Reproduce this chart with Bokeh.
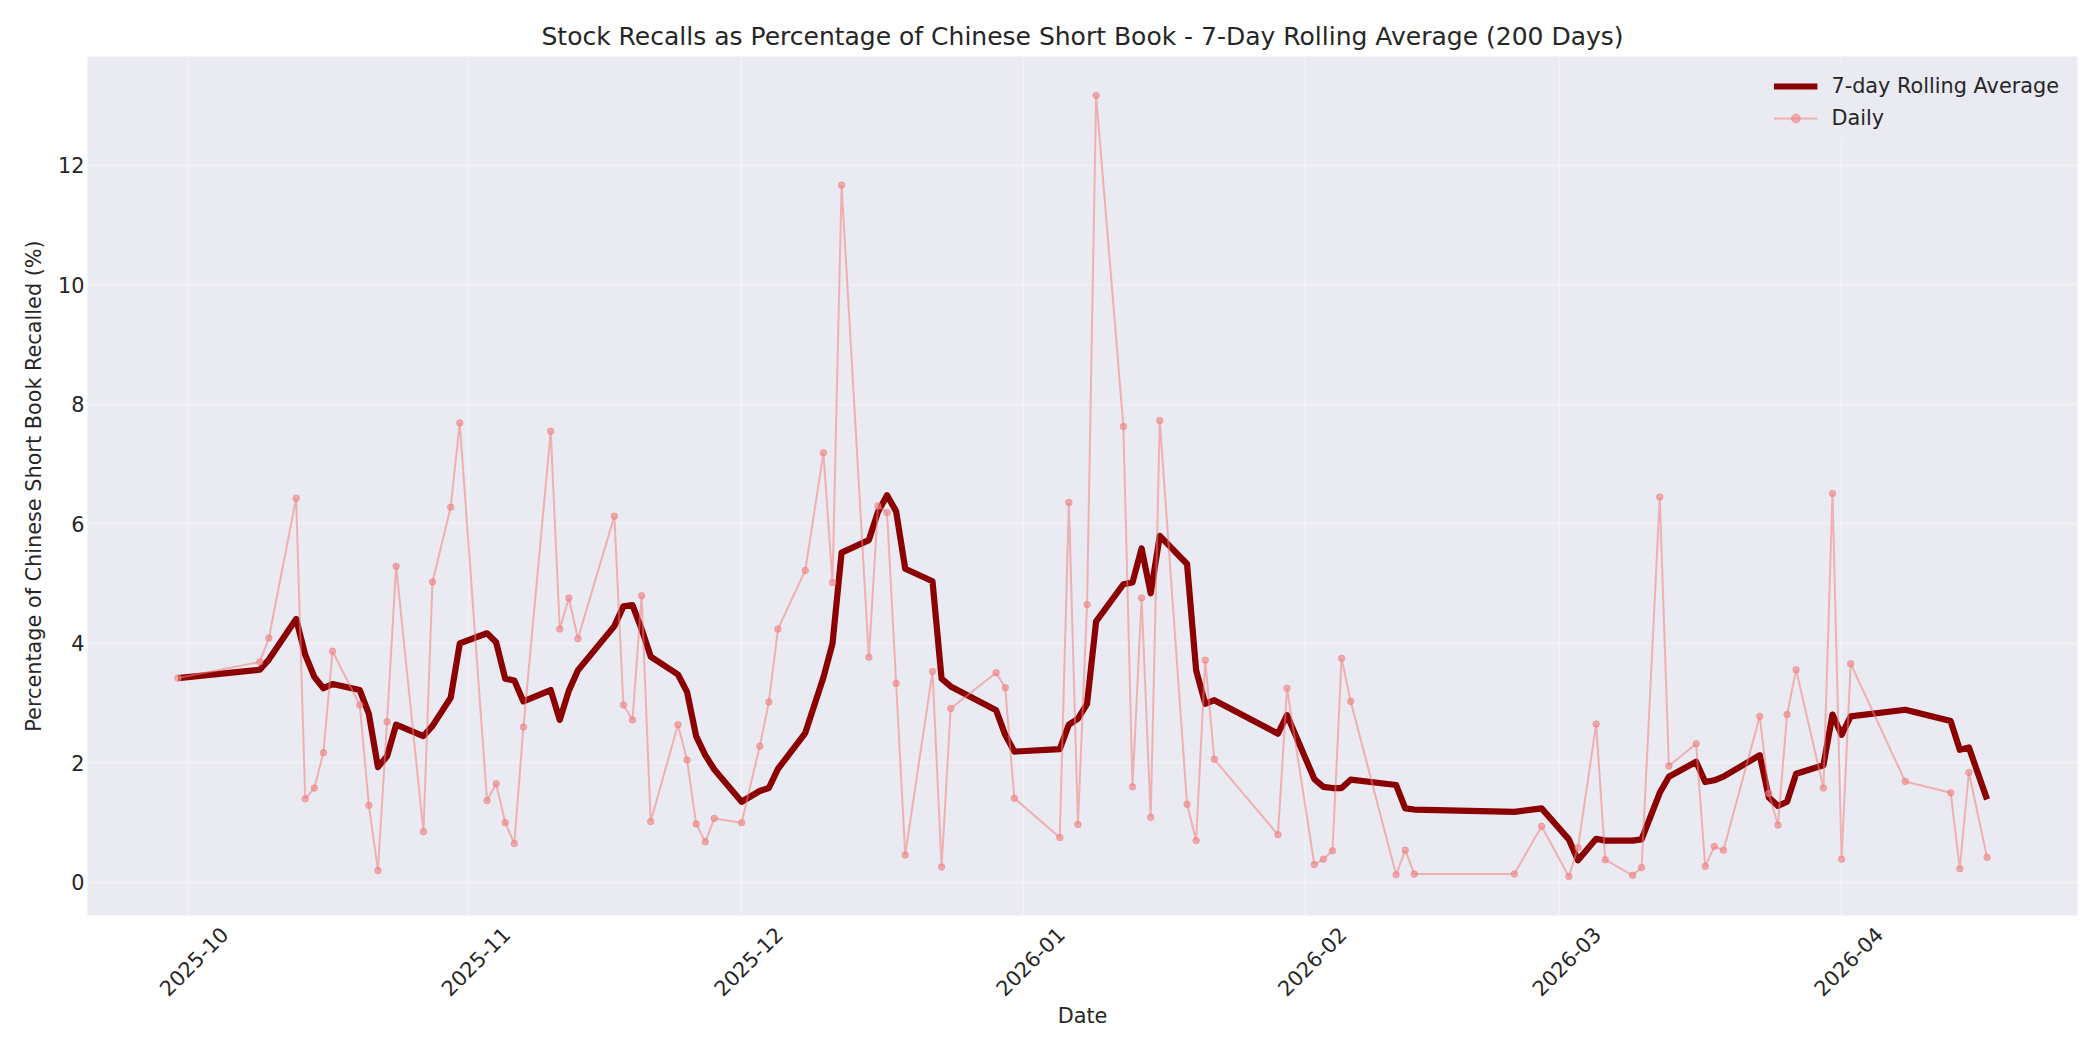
from math import pi

import pandas as pd
from bokeh.plotting import figure
from bokeh.models import Range1d, FixedTicker, DatetimeTickFormatter
from bokeh.embed import file_html
from bokeh.resources import INLINE

# trading days shown in the chart
dates = [
    "2025-09-30", "2025-10-09", "2025-10-10", "2025-10-13", "2025-10-14", "2025-10-15", "2025-10-16", "2025-10-17",
    "2025-10-20", "2025-10-21", "2025-10-22", "2025-10-23", "2025-10-24", "2025-10-27", "2025-10-28", "2025-10-30", "2025-10-31",
    "2025-11-03", "2025-11-04", "2025-11-05", "2025-11-06", "2025-11-07", "2025-11-10", "2025-11-11", "2025-11-12", "2025-11-13",
    "2025-11-17", "2025-11-18", "2025-11-19", "2025-11-20", "2025-11-21", "2025-11-24", "2025-11-25", "2025-11-26", "2025-11-27", "2025-11-28",
    "2025-12-01", "2025-12-03", "2025-12-04", "2025-12-05", "2025-12-08", "2025-12-10", "2025-12-11", "2025-12-12",
    "2025-12-15", "2025-12-16", "2025-12-17", "2025-12-18", "2025-12-19", "2025-12-22", "2025-12-23", "2025-12-24",
    "2025-12-29", "2025-12-30", "2025-12-31",
    "2026-01-05", "2026-01-06", "2026-01-07", "2026-01-08", "2026-01-09", "2026-01-12", "2026-01-13", "2026-01-14", "2026-01-15", "2026-01-16",
    "2026-01-19", "2026-01-20", "2026-01-21", "2026-01-22", "2026-01-29", "2026-01-30",
    "2026-02-02", "2026-02-03", "2026-02-04", "2026-02-05", "2026-02-06", "2026-02-11", "2026-02-12", "2026-02-13", "2026-02-24", "2026-02-27",
    "2026-03-02", "2026-03-03", "2026-03-05", "2026-03-06", "2026-03-09", "2026-03-10", "2026-03-12", "2026-03-13",
    "2026-03-16", "2026-03-17", "2026-03-18", "2026-03-19", "2026-03-23", "2026-03-24", "2026-03-25", "2026-03-26", "2026-03-27",
    "2026-03-30", "2026-03-31", "2026-04-01", "2026-04-02", "2026-04-08", "2026-04-13", "2026-04-14", "2026-04-15", "2026-04-17",
]

# daily % of short book recalled
daily = [
    3.42, 3.69, 4.09, 6.43, 1.40, 1.58, 2.17, 3.87,
    2.97, 1.29, 0.20, 2.69, 5.29, 0.85, 5.03, 6.28, 7.69,
    1.37, 1.65, 1.00, 0.65, 2.60, 7.55, 4.24, 4.76, 4.08,
    6.13, 2.97, 2.72, 4.80, 1.02, 2.64, 2.05, 0.98, 0.68, 1.07,
    1.00, 2.28, 3.02, 4.24, 5.22, 7.19, 5.02, 11.67,
    3.77, 6.30, 6.19, 3.33, 0.46, 3.53, 0.26, 2.91,
    3.51, 3.26, 1.41,
    0.75, 6.36, 0.97, 4.65, 13.17, 7.63, 1.60, 4.76, 1.09, 7.73,
    1.31, 0.70, 3.72, 2.06, 0.80, 3.25,
    0.30, 0.39, 0.53, 3.75, 3.03, 0.13, 0.54, 0.14, 0.14, 0.94,
    0.10, 0.58, 2.65, 0.38, 0.12, 0.25, 6.45, 1.95,
    2.32, 0.27, 0.60, 0.54, 2.78, 1.49, 0.96, 2.81, 3.56,
    1.58, 6.51, 0.39, 3.66, 1.69, 1.50, 0.23, 1.84, 0.42,
]

# 7-day rolling average as drawn
rolling = [
    3.42, 3.56, 3.73, 4.41, 3.81, 3.44, 3.25, 3.32,
    3.22, 2.82, 1.93, 2.11, 2.64, 2.45, 2.62, 3.09, 4.00,
    4.17, 4.02, 3.41, 3.38, 3.03, 3.22, 2.72, 3.21, 3.55,
    4.29, 4.62, 4.64, 4.24, 3.78, 3.48, 3.19, 2.45, 2.13, 1.89,
    1.35, 1.53, 1.58, 1.90, 2.50, 3.43, 4.00, 5.52,
    5.73, 6.20, 6.48, 6.21, 5.25, 5.04, 3.41, 3.28,
    2.88, 2.47, 2.19,
    2.23, 2.64, 2.74, 2.99, 4.37, 4.99, 5.02, 5.59, 4.84, 5.80,
    5.33, 3.55, 2.99, 3.05, 2.49, 2.80,
    1.73, 1.60, 1.58, 1.58, 1.72, 1.63, 1.24, 1.22, 1.18, 1.24,
    0.72, 0.37, 0.73, 0.70, 0.70, 0.72, 1.50, 1.77,
    2.02, 1.68, 1.71, 1.77, 2.13, 1.42, 1.28, 1.35, 1.82,
    1.96, 2.81, 2.47, 2.78, 2.89, 2.70, 2.22, 2.26, 1.39,
]

month_ticks = ["2025-10-01", "2025-11-01", "2025-12-01", "2026-01-01",
               "2026-02-01", "2026-03-01", "2026-04-01"]
y_ticks = [0, 2, 4, 6, 8, 10, 12]

FONT = "DejaVu Sans"
TEXT = "#262626"

x = pd.to_datetime(dates)
span = x.max() - x.min()
x_range = Range1d((x.min() - span * 0.05).to_pydatetime(), (x.max() + span * 0.05).to_pydatetime())
pad = (max(daily) - min(daily)) * 0.05
y_range = Range1d(min(daily) - pad, max(daily) + pad)

month_ms = [pd.Timestamp(m).timestamp() * 1000 for m in month_ticks]
# rotated labels are centred on the tick in the original, bokeh anchors their end
label_shift = 4.1 * 86400000

p = figure(
    x_axis_type="datetime",
    x_range=x_range,
    y_range=y_range,
    frame_width=1990,
    frame_height=859,
    min_border_left=87,
    min_border_right=15,
    min_border_top=56,
    min_border_bottom=127,
    title="Stock Recalls as Percentage of Chinese Short Book - 7-Day Rolling Average (200 Days)",
    output_backend="svg",
    toolbar_location=None,
)

p.background_fill_color = "#EAEAF2"
p.border_fill_color = "white"
p.outline_line_color = None

p.title.align = "center"
p.title.text_font = FONT
p.title.text_font_size = "25px"
p.title.text_font_style = "normal"
p.title.text_color = TEXT
p.title.standoff = 12

p.line(x, rolling, color="#8B0000", line_width=6.2, line_join="round",
       legend_label="7-day Rolling Average")
p.line(x, daily, color="lightcoral", line_width=2, alpha=0.55, legend_label="Daily")
p.scatter(x, daily, size=6.5, color="lightcoral", alpha=0.6, legend_label="Daily")

p.xaxis.ticker = FixedTicker(ticks=[t + label_shift for t in month_ms])
p.xgrid.ticker = FixedTicker(ticks=month_ms)
p.xaxis.formatter = DatetimeTickFormatter(
    days="%Y-%m", months="%Y-%m", years="%Y-%m", hours="%Y-%m"
)
p.xaxis.major_label_orientation = pi / 4
p.yaxis.ticker = FixedTicker(ticks=y_ticks)

for ax in (p.xaxis[0], p.yaxis[0]):
    ax.axis_line_color = None
    ax.major_tick_line_color = None
    ax.minor_tick_line_color = None
    ax.major_tick_out = 0
    ax.major_tick_in = 0
    ax.minor_tick_out = 0
    ax.major_label_text_font = FONT
    ax.major_label_text_font_size = "20.8px"
    ax.major_label_text_color = TEXT
    ax.axis_label_text_font = FONT
    ax.axis_label_text_font_size = "20.8px"
    ax.axis_label_text_font_style = "normal"
    ax.axis_label_text_color = TEXT

p.xaxis.axis_label = "Date"
p.yaxis.axis_label = "Percentage of Chinese Short Book Recalled (%)"
p.xaxis.major_label_standoff = 15
p.yaxis.major_label_standoff = 3
p.xaxis.axis_label_standoff = -2
p.yaxis.axis_label_standoff = 9

for g in (p.xgrid[0], p.ygrid[0]):
    g.grid_line_color = "white"
    g.grid_line_alpha = 0.35
    g.grid_line_width = 2

p.legend.location = "top_right"
p.legend.label_text_font = FONT
p.legend.label_text_font_size = "20.8px"
p.legend.label_text_color = TEXT
p.legend.glyph_width = 44
p.legend.glyph_height = 22
p.legend.label_height = 22
p.legend.label_standoff = 14
p.legend.spacing = 8
p.legend.padding = 9
p.legend.margin = 9
p.legend.border_line_alpha = 0
p.legend.background_fill_color = "#EAEAF2"
p.legend.background_fill_alpha = 0.8

open("out.html", "w").write(file_html(p, INLINE))
